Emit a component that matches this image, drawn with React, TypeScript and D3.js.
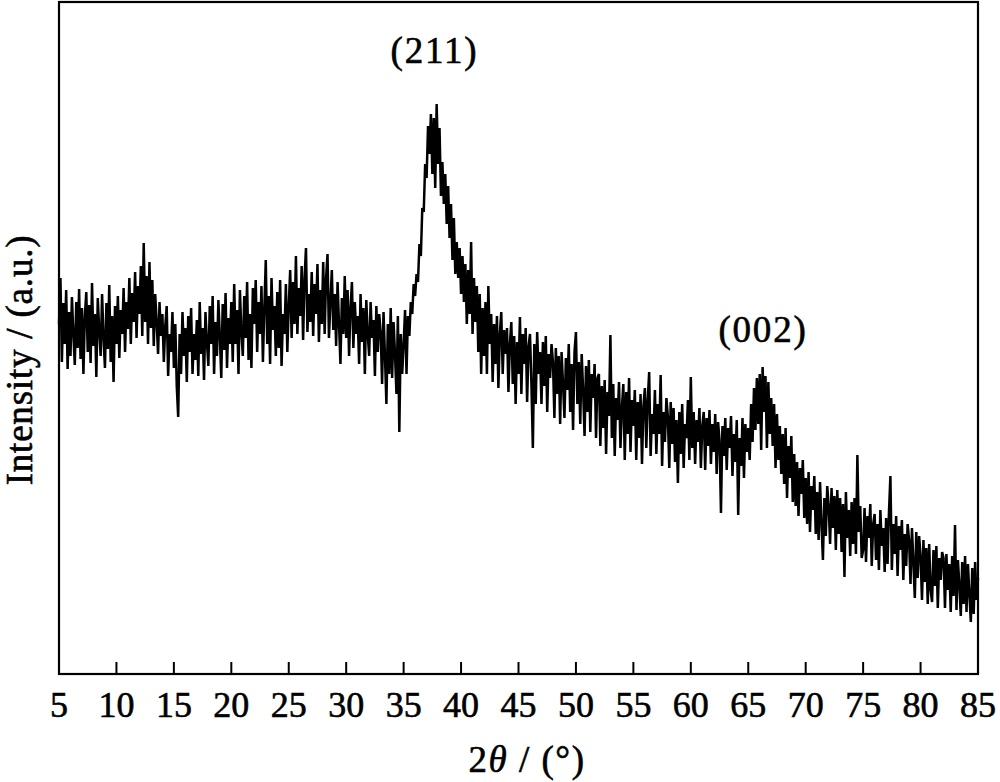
import React from "react";
import * as d3 from "d3";

// 2θ scan: start, step (degrees) and intensity readings (a.u.)
const scanStart = 5;
const scanStep = 0.125;
const intensity: number[] = [
  // 5–9.875
  350, 396, 312, 371, 330, 384, 305, 362,
  318, 377, 340, 309, 372, 326, 385, 315,
  366, 300, 358, 382, 322, 369, 311, 391,
  328, 360, 297, 376, 344, 318, 380, 336,
  306, 371, 325, 389, 312, 358, 292, 368,
  // 10–14.875
  330, 378, 316, 364, 340, 386, 322, 372,
  345, 396, 330, 381, 352, 402, 336, 388,
  360, 408, 338, 431, 352, 398, 330, 412,
  346, 394, 328, 380, 352, 320, 372, 338,
  360, 312, 348, 368, 298, 340, 322, 362,
  // 15–19.875
  306, 350, 288, 257, 340, 300, 362, 318,
  346, 292, 358, 322, 366, 300, 340, 314,
  354, 298, 372, 320, 346, 294, 362, 332,
  308, 368, 330, 378, 300, 352, 318, 374,
  338, 296, 370, 324, 381, 306, 356, 330,
  // 20–24.875
  372, 312, 390, 330, 364, 300, 384, 342,
  318, 378, 336, 392, 314, 360, 306, 386,
  350, 394, 322, 372, 340, 388, 312, 366,
  414, 330, 378, 310, 396, 344, 368, 318,
  382, 326, 394, 308, 360, 340, 390, 322,
  // 25–29.875
  368, 404, 336, 392, 350, 418, 340, 386,
  358, 408, 334, 396, 426, 342, 380, 352,
  402, 338, 390, 360, 410, 332, 384, 350,
  412, 340, 396, 420, 336, 372, 404, 344,
  380, 328, 392, 350, 310, 376, 340, 398,
  // 30–34.875
  336, 384, 318, 366, 392, 326, 372, 340,
  358, 310, 380, 332, 366, 300, 374, 340,
  318, 372, 336, 354, 298, 368, 322, 360,
  342, 290, 362, 318, 270, 350, 300, 366,
  296, 352, 320, 280, 358, 242, 340, 300,
  // 35–39.875
  330, 364, 300, 358, 338, 372, 360, 390,
  378, 400, 392, 430, 418, 466, 462, 510,
  496, 548, 520, 560, 500, 556, 486, 570,
  510, 546, 478, 512, 470, 500, 450, 488,
  436, 470, 414, 456, 400, 432, 396, 426,
  // 40–44.875
  380, 418, 372, 410, 350, 404, 360, 432,
  340, 396, 352, 388, 322, 380, 300, 366,
  318, 372, 300, 388, 330, 360, 292, 350,
  310, 358, 286, 340, 362, 300, 344, 320,
  346, 282, 330, 352, 290, 338, 270, 332,
  // 45–49.875
  300, 357, 280, 340, 310, 346, 272, 328,
  340, 290, 226, 330, 270, 342, 300, 322,
  270, 332, 288, 338, 262, 320, 296, 330,
  312, 256, 326, 280, 318, 250, 322, 290,
  256, 316, 284, 330, 262, 310, 244, 322,
  // 50–54.875
  342, 270, 312, 250, 320, 284, 238, 308,
  262, 314, 242, 300, 276, 310, 236, 296,
  300, 228, 288, 246, 294, 220, 282, 258,
  339, 236, 290, 218, 276, 254, 292, 226,
  266, 290, 214, 282, 240, 296, 222, 274,
  // 55–59.875
  248, 284, 214, 272, 236, 280, 210, 268,
  286, 226, 274, 302, 218, 260, 240, 284,
  220, 270, 240, 299, 208, 262, 232, 276,
  258, 206, 272, 230, 266, 212, 254, 191,
  262, 220, 270, 206, 250, 236, 274, 214,
  // 60–64.875
  297, 226, 262, 210, 254, 232, 266, 206,
  248, 262, 204, 256, 228, 264, 210, 250,
  222, 260, 200, 252, 234, 161, 248, 218,
  256, 204, 246, 226, 258, 198, 240, 212,
  254, 159, 236, 208, 256, 196, 250, 222,
  // 65–69.875
  246, 214, 270, 232, 286, 244, 296, 250,
  300, 224, 307, 262, 298, 226, 292, 240,
  276, 228, 270, 206, 260, 214, 248, 200,
  240, 190, 246, 176, 228, 196, 238, 172,
  220, 168, 212, 158, 206, 180, 214, 156,
  // 70–74.875
  196, 150, 202, 142, 188, 164, 198, 140,
  182, 134, 192, 150, 114, 176, 138, 188,
  168, 130, 186, 146, 178, 124, 184, 140,
  176, 122, 170, 97, 182, 136, 164, 118,
  172, 130, 176, 120, 219, 142, 168, 116,
  // 75–79.875
  124, 166, 112, 158, 136, 170, 108, 150,
  160, 114, 150, 104, 164, 128, 146, 102,
  156, 110, 162, 198, 104, 150, 120, 158,
  98, 148, 124, 154, 94, 140, 108, 150,
  134, 90, 146, 112, 76, 142, 96, 138,
  // 80–85
  118, 74, 134, 92, 126, 70, 130, 84,
  72, 124, 88, 128, 66, 116, 94, 122,
  116, 66, 120, 84, 110, 62, 118, 78,
  149, 64, 114, 90, 58, 112, 70, 118,
  62, 110, 80, 52, 106, 60, 112, 74,
  96,
];

const xTicks = [5, 10, 15, 20, 25, 30, 35, 40, 45, 50, 55, 60, 65, 70, 75, 80, 85];
const peakLabels = ["(211)", "(002)"];
const peakPositions = [37.6, 66.2];
const peakLabelIntensity = [611, 332];

const W = 1000;
const H = 782;
const left = 59;
const right = 978;
const top = 2;
const bottom = 674;
const font = "'Liberation Serif', 'Times New Roman', Times, serif";

export default function App() {
  const x = d3.scaleLinear().domain([5, 85]).range([left, right]);
  const y = d3.scaleLinear().domain([0, 672]).range([bottom, top]);
  const pts: [number, number][] = intensity.map((v, i) => [scanStart + i * scanStep, v]);
  const line = d3
    .line<[number, number]>()
    .x((d) => x(d[0]))
    .y((d) => y(d[1]));

  const textProps = { fill: "#000", stroke: "#000", strokeWidth: 0.6 };

  return (
    <svg
      width={W}
      height={H}
      style={{ position: "absolute", left: 0, top: 0, background: "#fff" }}
      fontFamily={font}
    >
      <path d={line(pts) || ""} fill="none" stroke="#000" strokeWidth={2.5} strokeLinejoin="miter" strokeMiterlimit={1.5} />
      <rect x={left} y={top} width={right - left} height={bottom - top} fill="none" stroke="#000" strokeWidth={2.2} />
      {xTicks.map((t) => (
        <g key={t}>
          {t > 5 && t < 85 && (
            <line x1={x(t)} x2={x(t)} y1={bottom} y2={bottom - 12} stroke="#000" strokeWidth={2} />
          )}
          <text x={x(t)} y={717} textAnchor="middle" fontSize={36} {...textProps}>
            {t}
          </text>
        </g>
      ))}
      <text x={527} y={772} textAnchor="middle" fontSize={37} letterSpacing={1.5} {...textProps}>
        2<tspan fontStyle="italic">θ</tspan> / (°)
      </text>
      <text transform={`translate(32, 360) rotate(-90)`} textAnchor="middle" fontSize={37} letterSpacing={0.8} {...textProps}>
        Intensity / (a.u.)
      </text>
      {peakLabels.map((lab, i) => (
        <text
          key={lab}
          x={x(peakPositions[i]) + 1}
          y={y(peakLabelIntensity[i])}
          textAnchor="middle"
          fontSize={37}
          letterSpacing={1.8}
          {...textProps}
        >
          {lab}
        </text>
      ))}
    </svg>
  );
}
